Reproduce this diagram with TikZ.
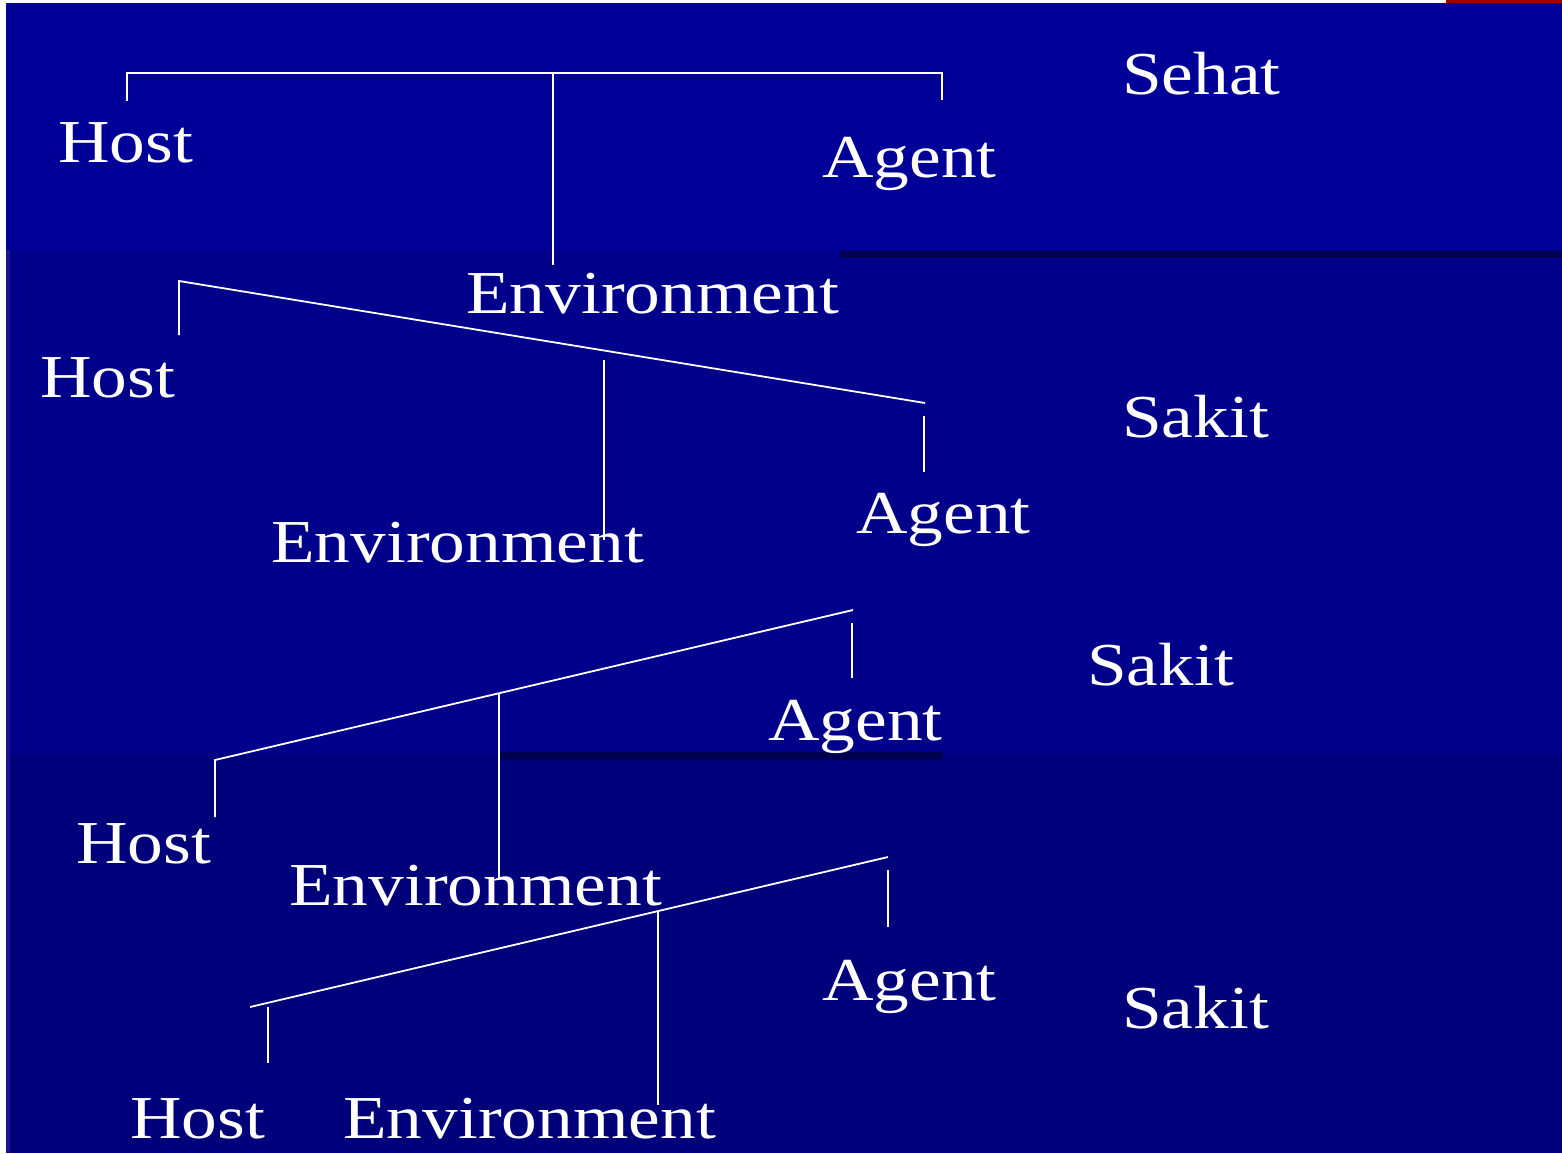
\documentclass[tikz,border=0pt]{standalone}
\usepackage{fontspec}
\usepackage{xcolor}
\usepackage{tikz}
\usetikzlibrary{positioning, calc}
\newfontfamily\slidefont[FakeStretch=1.17]{Liberation Serif}
\definecolor{bandtop}{RGB}{0,0,153}
\definecolor{bandmid}{RGB}{0,0,138}
\definecolor{bandlow}{RGB}{0,0,122}
\definecolor{bandedge}{RGB}{24,24,140}
\definecolor{bandshadow}{RGB}{0,0,80}
\definecolor{slidered}{RGB}{160,0,0}

\begin{document}
\begin{tikzpicture}[
    x=1pt, y=-1pt,
    word/.style={text=white, font=\slidefont\fontsize{61}{70}\selectfont, inner sep=0pt, anchor=base west},
    link/.style={draw=white, line width=1.8pt}
]

% slide background
\fill[white] (0,0) rectangle (1562,1153);
\fill[slidered] (1446,0) rectangle (1562,3);
\fill[bandtop] (6,3) rectangle (1562,250);
\fill[bandmid] (6,250) rectangle (1562,755);
\fill[bandlow] (6,755) rectangle (1562,1153);
\fill[bandedge] (6,250) rectangle (10,1153);
\fill[bandshadow] (840,251) rectangle (1562,258);
\fill[bandshadow] (500,752) rectangle (943,760);

% healthy
\node[word] (host1) at (58,162) {Host};
\node[word] (agent1) at (822,177) {Agent};
\node[word] (env1) at (466,313) {Environment};
\node[word] (sehat) at (1122,95) {Sehat};

\coordinate (h1) at (127,101);
\coordinate (j1) at (553,73);
\coordinate (a1) at (942,100);
\coordinate (e1) at (553,265);
\draw[link] (h1) |- (j1) -| (a1);
\draw[link] (j1) -- (e1);

% sick, host side down
\node[word] (host2) at (40,397) {Host};
\node[word] (env2) at (271,562) {Environment};
\node[word] (agent2) at (856,533) {Agent};
\node[word] (sakit1) at (1122,437) {Sakit};

\coordinate (h2) at (179,335);
\coordinate (h2k) at (179,281);
\coordinate (a2k) at (925,403);
\coordinate (a2t) at (924,416);
\coordinate (a2) at (924,472);
\coordinate (e2t) at (604,360);
\coordinate (e2) at (604,540);
\draw[link] (h2) -- (h2k) -- (a2k);
\draw[link] (a2t) -- (a2);
\draw[link] (e2t) -- (e2);

% sick, agent side up
\node[word] (agent3) at (768,740) {Agent};
\node[word] (sakit2) at (1087,685) {Sakit};
\node[word] (host3) at (76,863) {Host};
\node[word] (env3) at (289,905) {Environment};

\coordinate (h3) at (215,817);
\coordinate (h3k) at (215,760);
\coordinate (a3k) at (853,610);
\coordinate (a3t) at (852,623);
\coordinate (a3) at (852,678);
\coordinate (e3t) at (499,693);
\coordinate (e3) at (499,880);
\draw[link] (h3) -- (h3k) -- (a3k);
\draw[link] (a3t) -- (a3);
\draw[link] (e3t) -- (e3);

% sick, environment shifted
\node[word] (agent4) at (822,1000) {Agent};
\node[word] (sakit3) at (1122,1028) {Sakit};
\node[word] (host4) at (130,1138) {Host};
\node[word] (env4) at (343,1138) {Environment};

\coordinate (h4k) at (250,1007);
\coordinate (a4k) at (888,857);
\coordinate (h4t) at (268,1007);
\coordinate (h4) at (268,1063);
\coordinate (a4t) at (888,870);
\coordinate (a4) at (888,927);
\coordinate (e4t) at (658,911);
\coordinate (e4) at (658,1105);
\draw[link] (h4k) -- (a4k);
\draw[link] (h4t) -- (h4);
\draw[link] (a4t) -- (a4);
\draw[link] (e4t) -- (e4);

\end{tikzpicture}
\end{document}
